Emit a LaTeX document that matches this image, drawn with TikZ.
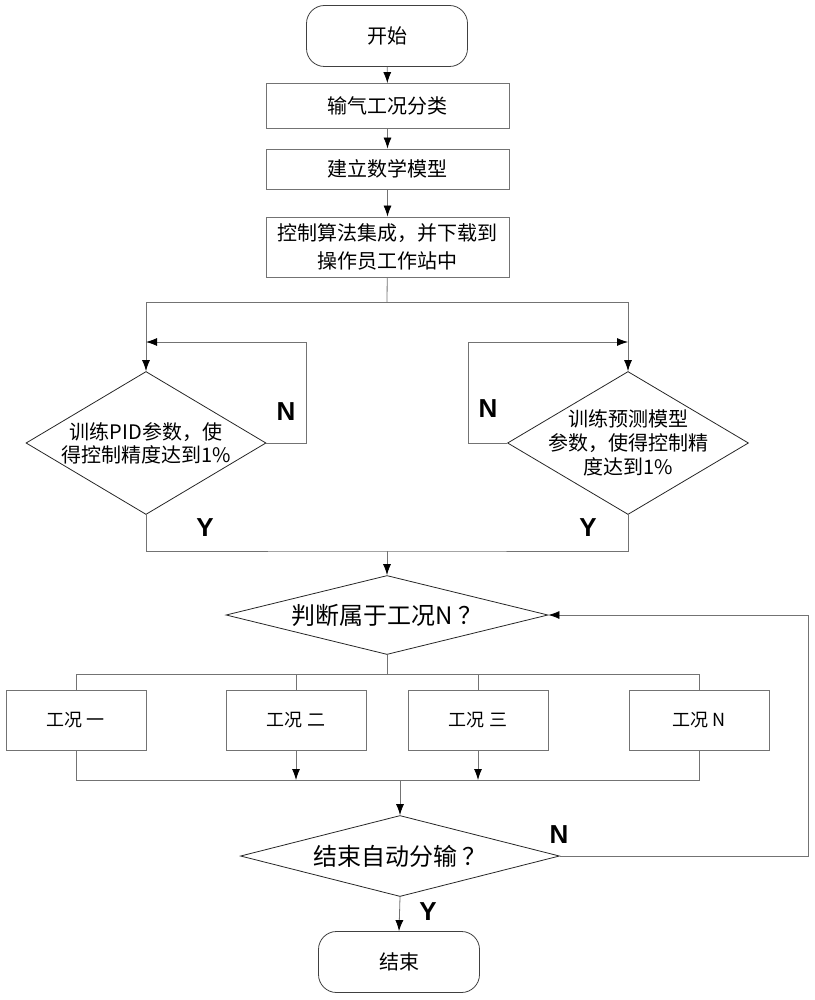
\documentclass[tikz,border=0pt]{standalone}
\usepackage{fontspec}
\setmainfont{Noto Sans CJK SC}
\newfontfamily\latinbold{Liberation Sans}
\usetikzlibrary{arrows.meta,shapes.geometric,positioning}
\tikzstyle{startstop} = [rectangle, rounded corners=18pt, minimum width=161pt, minimum height=61pt, draw=black!75, line width=0.8pt, font=\fontsize{20pt}{24pt}\selectfont]
\tikzstyle{process} = [rectangle, minimum width=243pt, draw=black!55, line width=0.8pt, align=center, font=\fontsize{20pt}{28pt}\selectfont]
\tikzstyle{decision} = [diamond, inner sep=0pt, draw=black!85, line width=0.8pt, font=\fontsize{24pt}{28pt}\selectfont]
\tikzstyle{dtext} = [align=center, inner sep=0pt, font=\fontsize{20pt}{23pt}\selectfont]
\tikzstyle{case} = [rectangle, minimum width=140pt, minimum height=60pt, draw=black!55, line width=0.8pt, font=\fontsize{18pt}{22pt}\selectfont]
\tikzstyle{yn} = [font=\latinbold\bfseries\fontsize{26pt}{30pt}\selectfont]
\tikzstyle{line} = [draw=black!55, line width=0.8pt]
\tikzstyle{arrow} = [line,->,>={Latex[length=11pt,width=8pt,color=black]}]

\begin{document}
\begin{tikzpicture}[x=1pt,y=-1pt]
\useasboundingbox (0,0) rectangle (814,1000);
\draw (387,36) node (start) [startstop] {开始};
\draw (387.5,106) node (b1) [process, minimum height=45pt] {输气工况分类};
\draw (387.5,169) node (b2) [process, minimum height=40pt] {建立数学模型};
\draw (387.5,247) node (b3) [process, minimum height=60pt] {控制算法集成，并下载到\\操作员工作站中};
\draw (146,443) node (dA) [decision, minimum width=240pt, minimum height=143pt] {};
\draw (dA.center) node (tA) [dtext] {训练PID参数，使\\得控制精度达到1\%};
\draw (628,443) node (dB) [decision, minimum width=241pt, minimum height=143pt] {};
\draw (dB.center) node (tB) [dtext, font=\fontsize{20pt}{24pt}\selectfont] {训练预测模型\\参数，使得控制精\\度达到1\%};
\draw (387,615) node (dC) [decision, aspect=4.08, minimum width=322pt, minimum height=79pt] {判断属于工况N\hspace{5pt}？};
\draw (76,720) node (c1) [case] {工况 一};
\draw (296,720) node (c2) [case] {工况 二};
\draw (478,720) node (c3) [case] {工况 三};
\draw (699,720) node (c4) [case] {工况 N};
\draw (400,856) node (dD) [decision, aspect=3.94, minimum width=319pt, minimum height=81pt] {结束自动分输\hspace{5pt}？};
\draw (399,962) node (end) [startstop] {结束};
% turning points
\coordinate (split1) at (387,302);
\coordinate (nA) at (306,342);
\coordinate (loopA) at (146,342);
\coordinate (nB) at (468,342);
\coordinate (loopB) at (628,342);
\coordinate (mergeY) at (387,551);
\coordinate (split2) at (387,674);
\coordinate (merge2) at (400,780);
\coordinate (ret) at (808,615);
% connectors
\draw[arrow] (start)--(b1);
\draw[arrow] (b1)--(b2);
\draw[arrow] (b2)--(b3);
\draw[line] (b3)--(split1);
\draw[arrow] (split1) -| (dA.north);
\draw[arrow] (split1) -| (dB.north);
\draw[arrow] (dA.east) -| (nA) -- (loopA);
\draw[arrow] (dB.west) -| (nB) -- (loopB);
\draw[line] (dA.south) |- (mergeY) -| (dB.south);
\draw[arrow] (mergeY)--(dC.north);
\draw[line] (dC.south)--(split2);
\foreach \c in {c1,c2,c3,c4}
  \draw[line] (split2) -| (\c.north);
\draw[line] (c1.south) |- (merge2);
\draw[line] (c4.south) |- (merge2);
\draw[arrow] (c2.south)--(c2.south |- merge2);
\draw[arrow] (c3.south)--(c3.south |- merge2);
\draw[arrow] (merge2)--(dD.north);
\draw[arrow] (dD.east) -| (ret) -- (dC.east);
\draw[arrow] (dD.south)--(end.north);
% labels
\draw (286,412) node (nA1) [yn] {N};
\draw (488,409) node (nB1) [yn] {N};
\draw (205,528) node (yA) [yn] {Y};
\draw (588,528) node (yB) [yn] {Y};
\draw (559,835) node (nD) [yn] {N};
\draw (428,912) node (yD) [yn] {Y};
\end{tikzpicture}
\end{document}
